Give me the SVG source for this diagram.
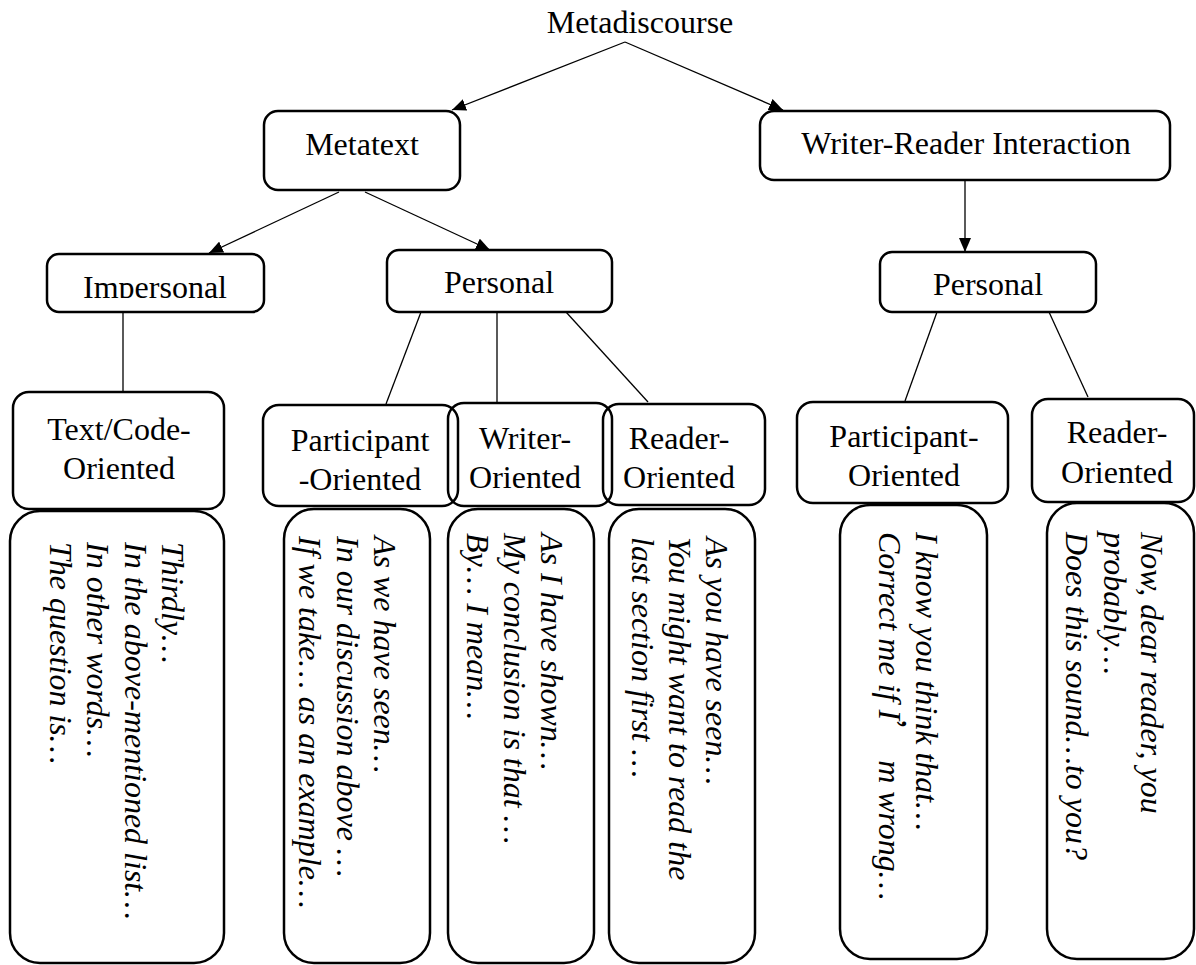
<svg xmlns="http://www.w3.org/2000/svg" width="1196" height="965" viewBox="0 0 1196 965">
<style>
.box{fill:none;stroke:#000;stroke-width:2.5}
.ln{fill:none;stroke:#000;stroke-width:1.3}
.t{font-family:"Liberation Serif","Times New Roman",serif;font-size:32px;fill:#000;text-anchor:middle}
.ex{font-family:"Liberation Serif","Times New Roman",serif;font-size:32px;font-style:italic;fill:#000}
.cjk{font-family:"Noto Sans CJK SC",sans-serif;font-style:normal}
</style>
<defs>
<marker id="ah" viewBox="0 0 14 12" refX="14" refY="6" markerWidth="14" markerHeight="12" markerUnits="userSpaceOnUse" orient="auto">
<path d="M0,0 L14,6 L0,12 Z" fill="#000"/>
</marker>
<clipPath id="impclip"><rect x="40" y="250" width="230" height="48"/></clipPath>
</defs>
<rect width="1196" height="965" fill="#fff"/>
<g id="connectors">
<line class="ln" x1="625" y1="42" x2="452" y2="110" marker-end="url(#ah)"/>
<line class="ln" x1="625" y1="42" x2="783" y2="110" marker-end="url(#ah)"/>
<line class="ln" x1="339" y1="192" x2="209" y2="253" marker-end="url(#ah)"/>
<line class="ln" x1="365" y1="192" x2="490" y2="250" marker-end="url(#ah)"/>
<line class="ln" x1="965" y1="181" x2="965" y2="252" marker-end="url(#ah)"/>
<line class="ln" x1="123" y1="312" x2="123" y2="392"/>
<line class="ln" x1="421" y1="312" x2="386" y2="404"/>
<line class="ln" x1="497" y1="312" x2="497" y2="403"/>
<line class="ln" x1="566" y1="312" x2="648" y2="402"/>
<line class="ln" x1="937" y1="312" x2="905" y2="401"/>
<line class="ln" x1="1049" y1="312" x2="1088" y2="397"/>
</g>
<g id="metadiscourse">
<text class="t" x="640" y="33">Metadiscourse</text>
</g>
<g id="metatext">
<rect class="box" x="264" y="111" width="196" height="79" rx="14"/>
<text class="t" x="362" y="155">Metatext</text>
</g>
<g id="writer-reader-interaction">
<rect class="box" x="760" y="111" width="410" height="69" rx="14"/>
<text class="t" x="966" y="154">Writer-Reader Interaction</text>
</g>
<g id="impersonal">
<rect class="box" x="47" y="254" width="217" height="58" rx="12"/>
<text class="t" x="155" y="298" clip-path="url(#impclip)">Impersonal</text>
</g>
<g id="personal-left">
<rect class="box" x="387" y="250" width="225" height="62" rx="12"/>
<text class="t" x="499" y="293">Personal</text>
</g>
<g id="personal-right">
<rect class="box" x="880" y="252" width="216" height="60" rx="12"/>
<text class="t" x="988" y="295">Personal</text>
</g>
<g id="text-code-oriented">
<rect class="box" x="13" y="392" width="211" height="117" rx="16"/>
<text class="t" x="119" y="440">Text/Code-</text>
<text class="t" x="119" y="479">Oriented</text>
</g>
<g id="participant-oriented-left">
<rect class="box" x="263" y="405" width="195" height="101" rx="16"/>
<text class="t" x="360" y="451">Participant</text>
<text class="t" x="360" y="490">-Oriented</text>
</g>
<g id="writer-oriented">
<rect class="box" x="448" y="403" width="164" height="103" rx="16"/>
<text class="t" x="525" y="449">Writer-</text>
<text class="t" x="525" y="488">Oriented</text>
</g>
<g id="reader-oriented-left">
<rect class="box" x="603" y="404" width="162" height="101" rx="16"/>
<text class="t" x="679" y="449">Reader-</text>
<text class="t" x="679" y="488">Oriented</text>
</g>
<g id="participant-oriented-right">
<rect class="box" x="797" y="402" width="211" height="101" rx="16"/>
<text class="t" x="904" y="447">Participant-</text>
<text class="t" x="904" y="486">Oriented</text>
</g>
<g id="reader-oriented-right">
<rect class="box" x="1032" y="399" width="162" height="103" rx="16"/>
<text class="t" x="1117" y="443">Reader-</text>
<text class="t" x="1117" y="483">Oriented</text>
</g>
<g id="examples-text-code">
<rect class="box" x="10" y="511" width="214" height="452" rx="30"/>
<text class="ex" transform="translate(162,542) rotate(90)"><tspan x="0" y="0">Thirdly…</tspan><tspan x="0" y="37.5">In the above-mentioned list…</tspan><tspan x="0" y="75">In other words…</tspan><tspan x="0" y="112.5">The question is…</tspan></text>
</g>
<g id="examples-participant-left">
<rect class="box" x="284" y="509" width="146" height="454" rx="30"/>
<text class="ex" transform="translate(374,536) rotate(90)"><tspan x="0" y="0">As we have seen…</tspan><tspan x="0" y="37.5">In our discussion above …</tspan><tspan x="0" y="75">If we take… as an example…</tspan></text>
</g>
<g id="examples-writer">
<rect class="box" x="448" y="509" width="146" height="454" rx="30"/>
<text class="ex" transform="translate(541,533) rotate(90)"><tspan x="0" y="0">As I have shown…</tspan><tspan x="0" y="37">My conclusion is that …</tspan><tspan x="0" y="74">By… I mean…</tspan></text>
</g>
<g id="examples-reader-left">
<rect class="box" x="609" y="509" width="146" height="454" rx="30"/>
<text class="ex" transform="translate(706,537) rotate(90)"><tspan x="0" y="0">As you have seen…</tspan><tspan x="0" y="37">You might want to read the</tspan><tspan x="0" y="74">last section first …</tspan></text>
</g>
<g id="examples-participant-right">
<rect class="box" x="840" y="505" width="147" height="454" rx="30"/>
<text class="ex" transform="translate(916,532) rotate(90)"><tspan x="0" y="0">I know you think that…</tspan><tspan x="0" y="37">Correct me if I</tspan><tspan class="cjk">’</tspan><tspan> m wrong…</tspan></text>
</g>
<g id="examples-reader-right">
<rect class="box" x="1047" y="503" width="147" height="456" rx="30"/>
<text class="ex" transform="translate(1141,532) rotate(90)"><tspan x="0" y="0">Now, dear reader, you</tspan><tspan x="0" y="37.5">probably…</tspan><tspan x="0" y="75">Does this sound…to you?</tspan></text>
</g>
</svg>
